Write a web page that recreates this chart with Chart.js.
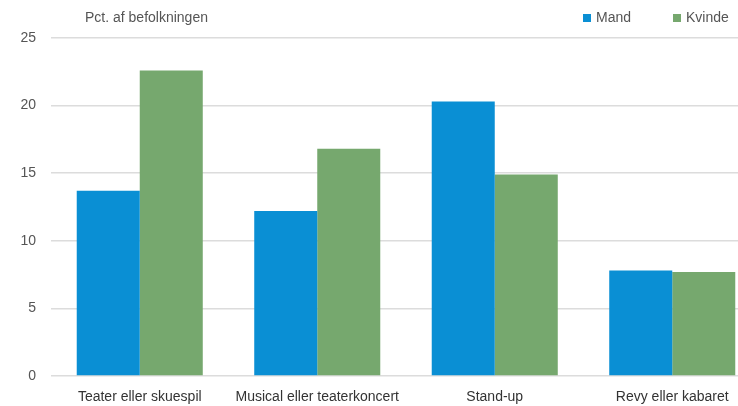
<!DOCTYPE html>
<html>
<head>
<meta charset="utf-8">
<script src="https://cdn.jsdelivr.net/npm/chart.js@4"></script>
<style>
  html, body { margin: 0; padding: 0; background: #fff; overflow: hidden; }
  #wrap { width: 761px; height: 406px; }
</style>
</head>
<body>
<div id="wrap"><canvas id="chart"></canvas></div>
<script>
const categories = ['Teater eller skuespil', 'Musical eller teaterkoncert', 'Stand-up', 'Revy eller kabaret'];
const mandValues = [13.7, 12.2, 20.3, 7.8];
const kvindeValues = [22.6, 16.8, 14.9, 7.7];
const yTicks = [0, 5, 10, 15, 20, 25];

const FONT = "'Liberation Sans Narrow', 'Liberation Sans', Arial, sans-serif";

// unit label and legend in the top band
const headerPlugin = {
  id: 'header',
  afterDraw(chart) {
    const ctx = chart.ctx;
    ctx.save();
    ctx.font = '14px ' + FONT;
    ctx.fillStyle = '#555';
    ctx.textBaseline = 'middle';
    ctx.fillText('Pct. af befolkningen', 85, 18);

    const items = [
      { x: 583, label: 'Mand', color: chart.data.datasets[0].backgroundColor },
      { x: 673, label: 'Kvinde', color: chart.data.datasets[1].backgroundColor }
    ];
    items.forEach(it => {
      ctx.fillStyle = it.color;
      ctx.fillRect(it.x, 14, 8, 8);
      ctx.fillStyle = '#555';
      ctx.fillText(it.label, it.x + 13, 18);
    });
    ctx.restore();
  }
};

const ctx = document.getElementById('chart').getContext('2d');
new Chart(ctx, {
  type: 'bar',
  data: {
    labels: categories,
    datasets: [
      { label: 'Mand', data: mandValues, backgroundColor: '#0a8fd4' },
      { label: 'Kvinde', data: kvindeValues, backgroundColor: '#76a86e' }
    ]
  },
  options: {
    responsive: true,
    maintainAspectRatio: false,
    animation: false,
    layout: { padding: { top: 38, right: 0, left: 0, bottom: 0 } },
    plugins: {
      legend: { display: false },
      tooltip: { enabled: false }
    },
    datasets: {
      bar: { barPercentage: 1, categoryPercentage: 0.71 }
    },
    scales: {
      x: {
        grid: { display: false },
        border: { display: false },
        ticks: { color: '#333', font: { size: 14, family: FONT }, padding: 5, maxRotation: 0 },
        afterFit(scale) { scale.height = 30; }
      },
      y: {
        min: 0,
        max: 25,
        afterBuildTicks(scale) { scale.ticks = yTicks.map(v => ({ value: v })); },
        grid: { color: '#dcdcdc', lineWidth: 1.5, drawTicks: false },
        border: { display: false },
        ticks: { color: '#555', font: { size: 14, family: FONT }, padding: 15 },
        afterFit(scale) { scale.width = 51; }
      }
    }
  },
  plugins: [headerPlugin]
});
</script>
</body>
</html>
